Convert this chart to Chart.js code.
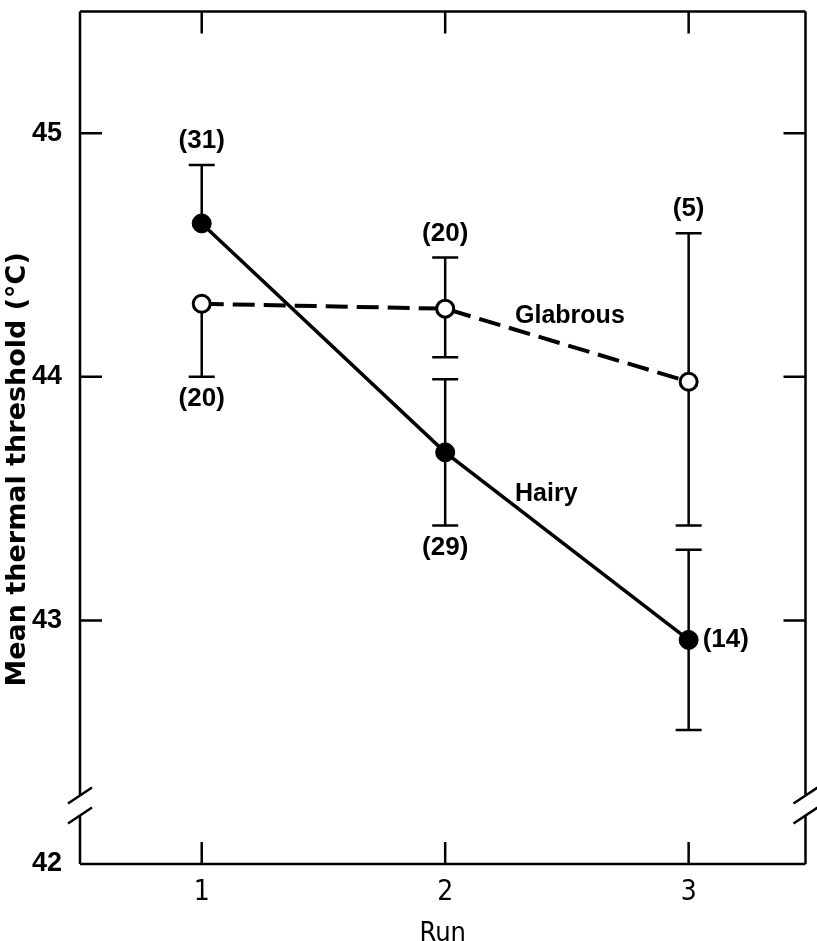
<!DOCTYPE html>
<html>
<head>
<meta charset="utf-8">
<script src="https://cdn.jsdelivr.net/npm/chart.js@4.4.0/dist/chart.umd.min.js"></script>
<style>
  html, body { margin:0; padding:0; background:#fff; }
  #wrap { width:817px; height:941px; }
</style>
</head>
<body>
<div id="wrap"><canvas id="chart-threshold"></canvas></div>
<script>
// data
const runs = [1, 2, 3];
const yTicks = [42, 43, 44, 45];

const hairy = [44.63, 43.69, 42.92];
const hairyErrUp = [0.24, 0.30, 0.37];
const hairyErrDown = [0, 0.30, 0.37];   // lower bar not drawn at run 1
const hairyN = [31, 29, 14];

const glabrous = [44.30, 44.28, 43.98];
const glabrousErrUp = [0, 0.21, 0.61];  // upper bar not drawn at run 1
const glabrousErrDown = [0.30, 0.20, 0.59];
const glabrousN = [20, 20, 5];

// where the (n) goes for each point
const hairyNPos = ['above', 'below', 'right'];
const glabrousNPos = ['below', 'above', 'above'];

const INK = '#000';
const countFont = 'bold 26px "Liberation Sans", Arial, sans-serif';
const nameFont = 'bold 25px "Liberation Sans", Arial, sans-serif';
const condensed = '"DejaVu Sans Condensed", "Liberation Sans", sans-serif';
const yTitle = 'Mean thermal threshold (°C)';

// error bars, drawn under the lines/points
const errorBars = {
  id: 'errorBars',
  beforeDatasetsDraw(chart) {
    const ctx = chart.ctx, xs = chart.scales.x, ys = chart.scales.y;
    ctx.save();
    ctx.strokeStyle = INK;
    ctx.lineWidth = 2.5;
    chart.data.datasets.forEach(ds => {
      ds.data.forEach((p, i) => {
        const x = xs.getPixelForValue(p.x);
        const yc = ys.getPixelForValue(p.y);
        [[ds.errUp[i], 1], [ds.errDown[i], -1]].forEach(([e, s]) => {
          if (!e) return;
          const ye = ys.getPixelForValue(p.y + s * e);
          ctx.beginPath();
          ctx.moveTo(x, yc); ctx.lineTo(x, ye);
          ctx.moveTo(x - 13, ye); ctx.lineTo(x + 13, ye);
          ctx.stroke();
        });
      });
    });
    ctx.restore();
  },
  afterDatasetsDraw(chart) {
    const ctx = chart.ctx, xs = chart.scales.x, ys = chart.scales.y;
    ctx.save();
    ctx.fillStyle = INK;
    chart.data.datasets.forEach(ds => {
      ctx.font = countFont;
      ds.data.forEach((p, i) => {
        const x = xs.getPixelForValue(p.x);
        const where = ds.nPos[i];
        const txt = '(' + ds.n[i] + ')';
        if (where === 'above') {
          const ye = ys.getPixelForValue(p.y + ds.errUp[i]);
          ctx.textAlign = 'center'; ctx.textBaseline = 'middle';
          ctx.fillText(txt, x, ye - 24);
        } else if (where === 'below') {
          const ye = ys.getPixelForValue(p.y - ds.errDown[i]);
          ctx.textAlign = 'center'; ctx.textBaseline = 'middle';
          ctx.fillText(txt, x, ye + 22);
        } else {
          ctx.textAlign = 'left'; ctx.textBaseline = 'middle';
          ctx.fillText(txt, x + 14, ys.getPixelForValue(p.y));
        }
      });
      // series name
      ctx.font = nameFont;
      ctx.textAlign = 'left'; ctx.textBaseline = 'middle';
      ctx.fillText(ds.label, xs.getPixelForValue(ds.namePos[0]), ys.getPixelForValue(ds.namePos[1]));
    });
    ctx.restore();
  }
};

// box, inward ticks, axis breaks and the y title
const frame = {
  id: 'frame',
  afterDraw(chart) {
    const ctx = chart.ctx, a = chart.chartArea;
    const xs = chart.scales.x, ys = chart.scales.y;
    const T = 22;
    const brk = ys.getPixelForValue(42.24);
    ctx.save();
    ctx.strokeStyle = INK;
    ctx.lineWidth = 2.5;
    ctx.lineCap = 'butt';
    ctx.beginPath();
    ctx.moveTo(a.left, a.top); ctx.lineTo(a.right, a.top);
    ctx.moveTo(a.left, a.bottom); ctx.lineTo(a.right, a.bottom);
    [a.left, a.right].forEach(x => {
      ctx.moveTo(x, a.top); ctx.lineTo(x, brk - 10);
      ctx.moveTo(x, brk + 10); ctx.lineTo(x, a.bottom);
    });
    runs.forEach(r => {
      const x = xs.getPixelForValue(r);
      ctx.moveTo(x, a.bottom); ctx.lineTo(x, a.bottom - T);
      ctx.moveTo(x, a.top); ctx.lineTo(x, a.top + T);
    });
    yTicks.slice(1).forEach(v => {
      const y = ys.getPixelForValue(v);
      ctx.moveTo(a.left, y); ctx.lineTo(a.left + T, y);
      ctx.moveTo(a.right, y); ctx.lineTo(a.right - T, y);
    });
    ctx.stroke();
    ctx.beginPath();
    [a.left, a.right].forEach(x => {
      [-10, 10].forEach(d => {
        ctx.moveTo(x - 12, brk + d + 8);
        ctx.lineTo(x + 12, brk + d - 8);
      });
    });
    ctx.stroke();

    // y title, a bit below the middle of the axis like the original
    ctx.translate(18, ys.getPixelForValue(43.62));
    ctx.rotate(-Math.PI / 2);
    ctx.fillStyle = INK;
    ctx.font = 'bold 27px "DejaVu Sans", sans-serif';
    ctx.textAlign = 'center';
    ctx.textBaseline = 'middle';
    ctx.fillText(yTitle, 0, 0);
    ctx.restore();
  }
};

new Chart(document.getElementById('chart-threshold'), {
  type: 'line',
  data: {
    datasets: [
      {
        label: 'Hairy',
        data: runs.map((r, i) => ({ x: r, y: hairy[i] })),
        errUp: hairyErrUp, errDown: hairyErrDown,
        n: hairyN, nPos: hairyNPos,
        namePos: [2.287, 43.52],
        borderColor: INK,
        borderWidth: 3.5,
        pointRadius: 9.5,
        pointBackgroundColor: INK,
        pointBorderColor: INK,
        pointBorderWidth: 1,
        tension: 0
      },
      {
        label: 'Glabrous',
        data: runs.map((r, i) => ({ x: r, y: glabrous[i] })),
        errUp: glabrousErrUp, errDown: glabrousErrDown,
        n: glabrousN, nPos: glabrousNPos,
        namePos: [2.287, 44.25],
        borderColor: INK,
        borderWidth: 4,
        borderDash: [22, 9],
        pointRadius: 8.5,
        pointBackgroundColor: '#fff',
        pointBorderColor: INK,
        pointBorderWidth: 3,
        tension: 0
      }
    ]
  },
  options: {
    responsive: true,
    maintainAspectRatio: false,
    animation: false,
    clip: false,
    layout: { padding: { top: 9, right: 9, left: 0, bottom: 0 } },
    plugins: { legend: { display: false }, tooltip: { enabled: false } },
    scales: {
      x: {
        type: 'linear',
        min: 0.5, max: 3.48,
        afterBuildTicks: s => { s.ticks = runs.map(v => ({ value: v })); },
        afterFit: s => { s.height = 77; s.paddingLeft = 0; s.paddingRight = 0; },
        grid: { display: false, drawTicks: false },
        border: { display: false },
        ticks: {
          padding: 12,
          color: INK,
          font: { family: condensed, size: 28 }
        },
        title: {
          display: true, text: 'Run', color: INK,
          padding: { top: 0, bottom: -6 },
          font: { family: condensed, size: 27, lineHeight: 1 }
        }
      },
      y: {
        min: 42, max: 45.5,
        afterBuildTicks: s => { s.ticks = yTicks.map(v => ({ value: v })); },
        afterFit: s => { s.width = 80; s.paddingTop = 0; s.paddingBottom = 0; },
        grid: { display: false, drawTicks: false },
        border: { display: false },
        ticks: {
          padding: 18,
          color: INK,
          font: { family: '"Liberation Sans", Arial, sans-serif', size: 27, weight: 'bold' }
        }
      }
    }
  },
  plugins: [errorBars, frame]
});
</script>
</body>
</html>
